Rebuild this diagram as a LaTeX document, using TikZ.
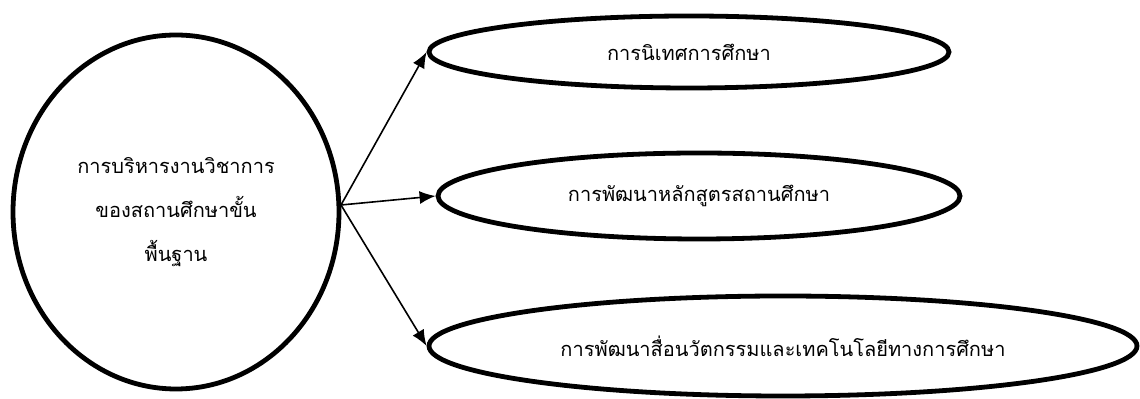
\documentclass[tikz,border=0pt]{standalone}
\usepackage{fontspec}
\newfontfamily\thaifont[Script=Thai]{Loma}
\usetikzlibrary{shapes.geometric,arrows.meta}

\begin{document}
\begin{tikzpicture}[x=0.5pt,y=-0.5pt,
    topic/.style={ellipse,draw,line width=2.4pt,inner sep=0pt,align=center,
        font=\thaifont\fontsize{10}{22}\selectfont},
    branch/.style={ellipse,draw,line width=2.4pt,inner sep=0pt,
        font=\thaifont\fontsize{10}{12}\selectfont},
    link/.style={-{Latex[length=8pt,width=6.5pt]},line width=0.8pt}]
    \useasboundingbox (0,0) rectangle (1140,399);

    \node[topic,minimum width=163pt,minimum height=177pt] (main) at (176,212)
        {การบริหารงานวิชาการ\\ของสถานศึกษาขั้น\\พื้นฐาน};

    \node[branch,minimum width=260pt,minimum height=36pt] (supervision) at (689,52) {การนิเทศการศึกษา};
    \node[branch,minimum width=261pt,minimum height=43pt] (curriculum) at (699,196) {การพัฒนาหลักสูตรสถานศึกษา};
    \node[branch,minimum width=354pt,minimum height=50pt] (media) at (783,346) {การพัฒนาสื่อนวัตกรรมและเทคโนโลยีทางการศึกษา};

    \coordinate (hub) at (341,205);
    \draw[link] (hub) -- (supervision.west);
    \draw[link] (hub) -- (curriculum.west);
    \draw[link] (hub) -- (media.west);
\end{tikzpicture}
\end{document}
